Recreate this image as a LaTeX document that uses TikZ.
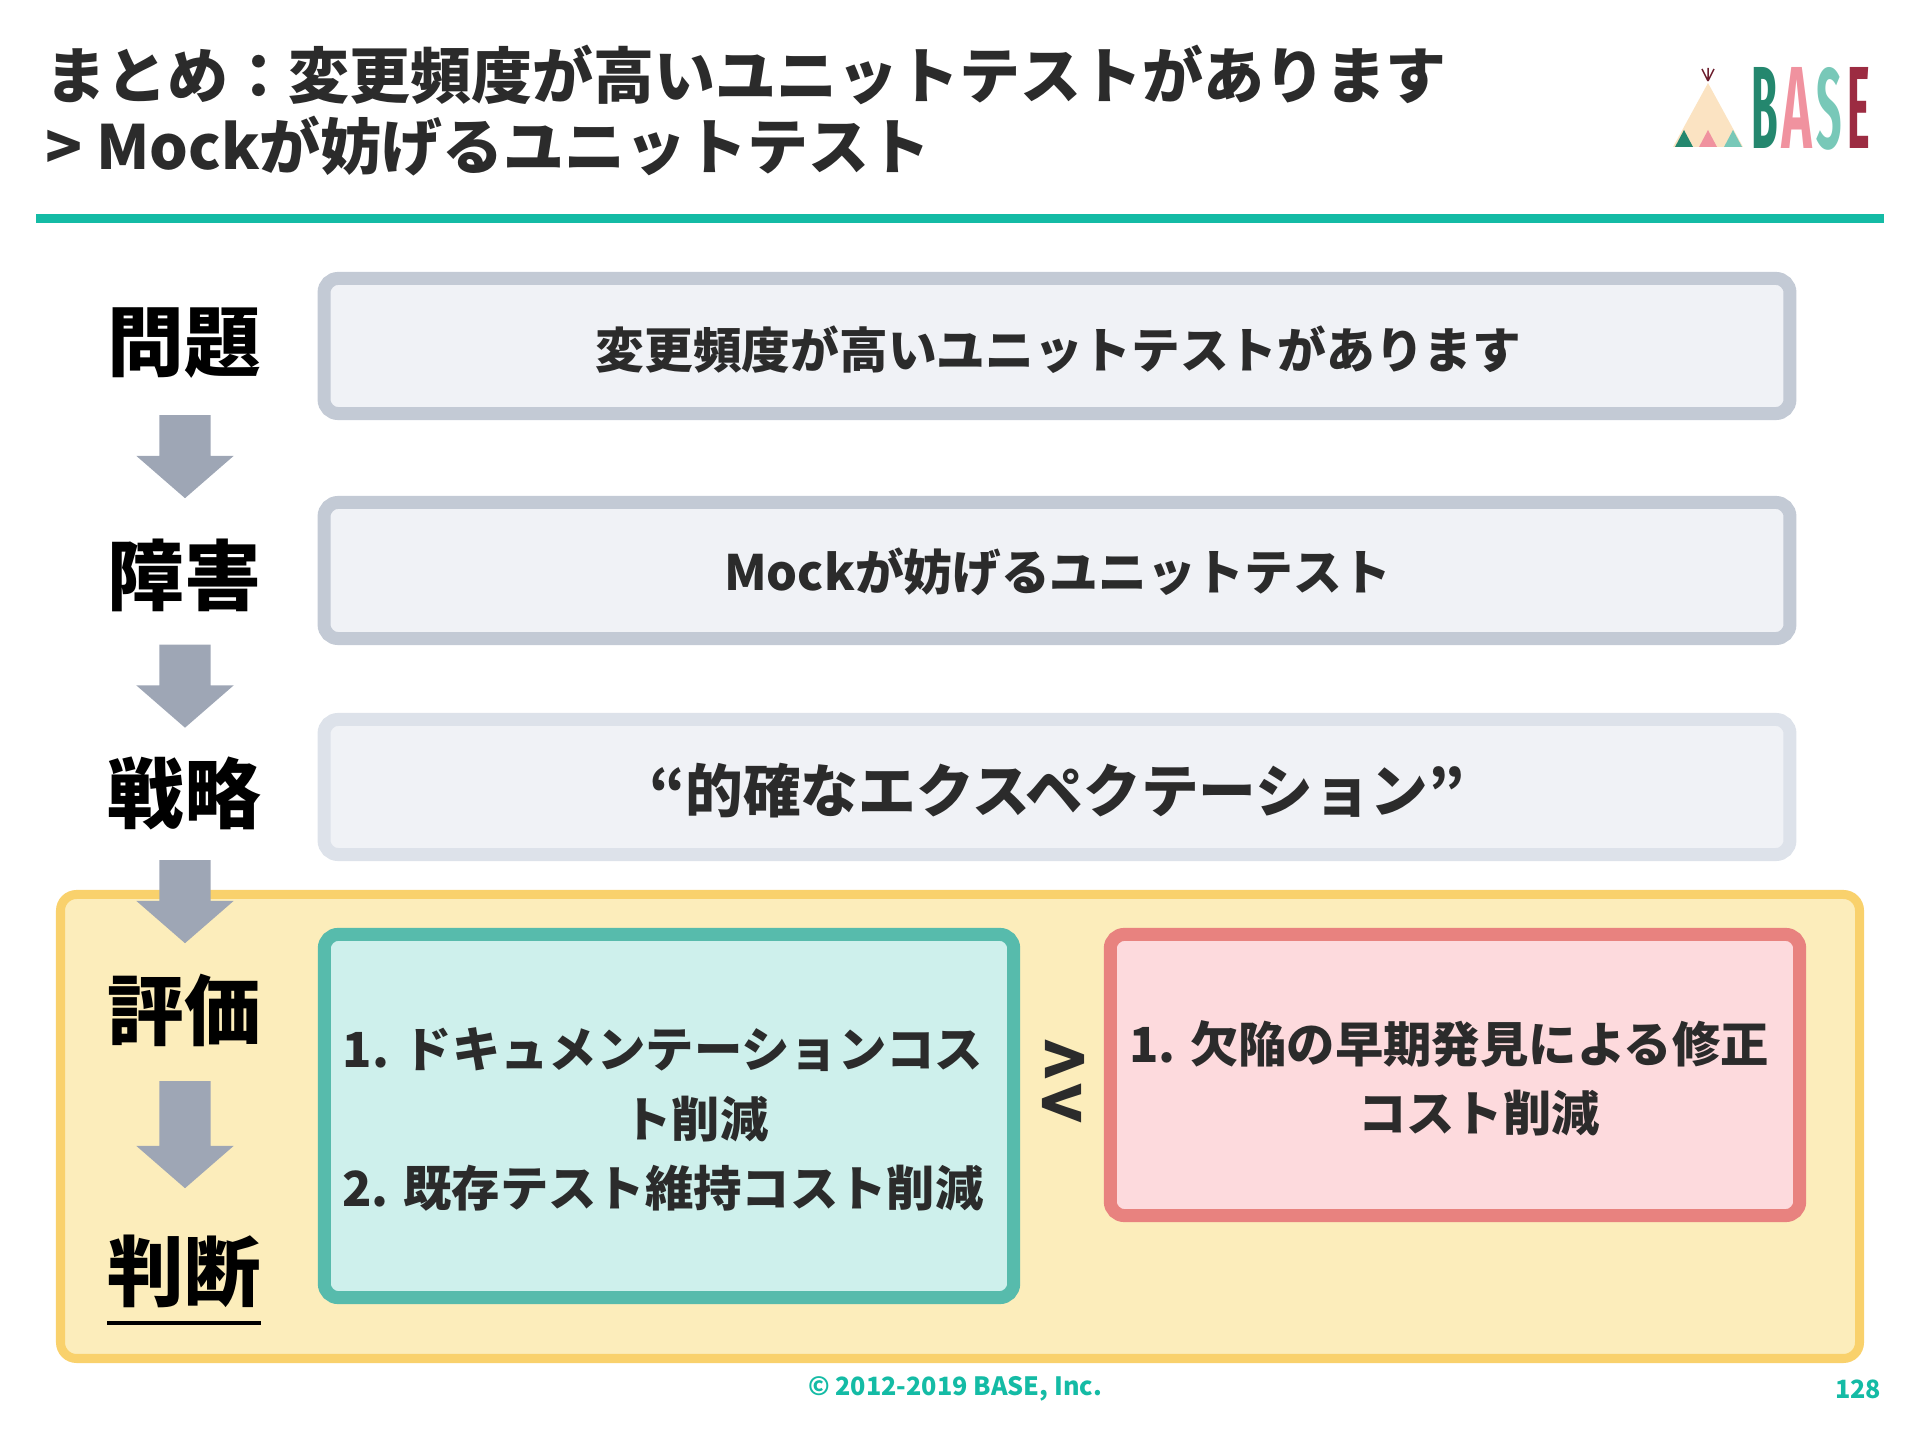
\documentclass[tikz,border=0pt]{standalone}
\usepackage{fontspec}
\setmainfont{Noto Sans CJK JP}
\newfontfamily\logofont{Fira Sans Extra Condensed SemiBold}
\usetikzlibrary{shapes.arrows}
\setlength{\lineskiplimit}{-20pt}

\definecolor{inkdark}{HTML}{2B2B2B}
\definecolor{baseteal}{HTML}{14BBA5}
\definecolor{arrowgray}{HTML}{9EA6B5}
\definecolor{panelfill}{HTML}{F0F2F6}
\definecolor{panelline}{HTML}{C3CAD5}
\definecolor{panellight}{HTML}{DDE2EA}
\definecolor{yellowfill}{HTML}{FCEDBB}
\definecolor{yellowline}{HTML}{F9D16C}
\definecolor{goodfill}{HTML}{CEF0EC}
\definecolor{goodline}{HTML}{57BBAC}
\definecolor{costfill}{HTML}{FDDADD}
\definecolor{costline}{HTML}{E8827F}
\definecolor{logogreen}{HTML}{24876E}
\definecolor{logopink}{HTML}{F0929F}
\definecolor{logomint}{HTML}{78C8B8}
\definecolor{logored}{HTML}{9C2C42}
\definecolor{logotent}{HTML}{FBE3C2}

\tikzset{
  panel/.style={draw, rounded corners=.14cm, line width=.13cm},
  paneltext/.style={inner sep=0pt, align=center, text=inkdark, font=\bfseries\fontsize{13.85}{19.7}\selectfont},
  listtext/.style={paneltext, font=\bfseries\fontsize{13.75}{19.7}\selectfont},
  steplabel/.style={inner sep=0pt, text=black, font=\bfseries\fontsize{21.8}{25}\selectfont},
  blockarrow/.style={single arrow, fill=arrowgray, inner sep=0pt, text width=.5cm, text height=.5cm, text depth=0pt,
    single arrow head extend=.23cm, single arrow head indent=0pt, single arrow tip angle=98,
    shape border rotate=270},
  footer/.style={inner sep=0pt, text=baseteal, font=\bfseries\fontsize{7.16}{10}\selectfont},
  logoletter/.style={inner sep=0pt, anchor=north west},
}
\newcommand{\logochar}[2]{\resizebox{#1}{.81cm}{\logofont #2}}

\begin{document}
\begin{tikzpicture}[x=.01cm, y=-.01cm]
  \useasboundingbox (0,0) rectangle (1920,1440);

  % Title
  \node[anchor=west, inner sep=0pt, align=left, text=inkdark, font=\bfseries\fontsize{17.33}{20.2}\selectfont]
    (title) at (44.5,111) {まとめ：変更頻度が高いユニットテストがあります\\> Mockが妨げるユニットテスト};
  \fill[baseteal] (36,214) rectangle (1884,223);

  % Logo
  \fill[logotent] (1708,83) -- (1743,147) -- (1673,147) -- cycle;
  \fill[logogreen] (1684,130) -- (1693,147) -- (1675,147) -- cycle;
  \fill[logopink] (1708,130) -- (1717,147) -- (1699,147) -- cycle;
  \fill[logomint] (1733,130) -- (1742,147) -- (1724,147) -- cycle;
  \draw[logored!70!black, line width=.015cm] (1708,81) -- (1702,69) (1708,81) -- (1708,68) (1708,81) -- (1714,69);
  \node[logoletter, text=logogreen] (logob) at (1751,67) {\logochar{.265cm}{B}};
  \node[logoletter, text=logopink] (logoa) at (1781,67) {\logochar{.31cm}{A}};
  \node[logoletter, text=logomint] (logos) at (1816,67) {\logochar{.255cm}{S}};
  \node[logoletter, text=logored] (logoe) at (1847,67) {\logochar{.225cm}{E}};

  % Bottom area behind the last steps
  \draw[line width=.09cm, rounded corners=.16cm, draw=yellowline, fill=yellowfill] (60.5,894.5) rectangle (1859.5,1358.5);

  % Upper panels
  \node[panel, draw=panelline, fill=panelfill, minimum width=14.65cm, minimum height=1.35cm] (problem) at (1057,346) {};
  \node[panel, draw=panelline, fill=panelfill, minimum width=14.65cm, minimum height=1.36cm] (obstacle) at (1057,570.5) {};
  \node[panel, draw=panellight, fill=panelfill, minimum width=14.65cm, minimum height=1.35cm] (strategy) at (1057,787) {};
  \node[paneltext] (problemtext) at (1058.5,349.5) {変更頻度が高いユニットテストがあります};
  \node[paneltext] (obstacletext) at (1057.5,572) {Mockが妨げるユニットテスト};
  \node[paneltext, font=\bfseries\fontsize{16.4}{20}\selectfont] (strategytext) at (1057,790.5) {“的確なエクスペクテーション”};

  % Left column
  \foreach \name/\ypos/\word in {lproblem/343/問題, lobstacle/575/障害, lstrategy/793/戦略, leval/1010/評価, ljudge/1271/判断}
    \node[steplabel] (\name) at (184,\ypos) {\word};
  \draw[black, line width=.035cm] (107,1323) -- (261,1323);
  \foreach \name/\ypos/\len in {arrowa/445.5/.83, arrowb/675/.83, arrowc/890.5/.83, arrowd/1123.5/1.07}
    \node[blockarrow, minimum height=\len cm] (\name) at (185,\ypos) {};

  % Comparison
  \node[panel, draw=goodline, fill=goodfill, minimum width=6.89cm, minimum height=3.63cm] (benefit) at (669,1116) {};
  \node[panel, draw=costline, fill=costfill, minimum width=6.89cm, minimum height=2.81cm] (cost) at (1455,1075) {};
  \node[listtext] (benefittext) at (663,1119.5) {1. ドキュメンテーションコス\\\hspace*{.66cm}ト削減\\2. 既存テスト維持コスト削減};
  \node[listtext] (costtext) at (1449,1078.5) {1. 欠陥の早期発見による修正\\\hspace*{.6cm}コスト削減};
  \node[inner sep=0pt, align=center, text=inkdark, font=\bfseries\fontsize{21}{12.6}\selectfont] (mark) at (1062,1086) {\hspace*{.06cm}>\\<};

  % Footer
  \node[footer] (copyright) at (955,1389) {© 2012-2019 BASE, Inc.};
  \node[footer, anchor=east] (pagenum) at (1882,1389) {128};
\end{tikzpicture}
\end{document}
